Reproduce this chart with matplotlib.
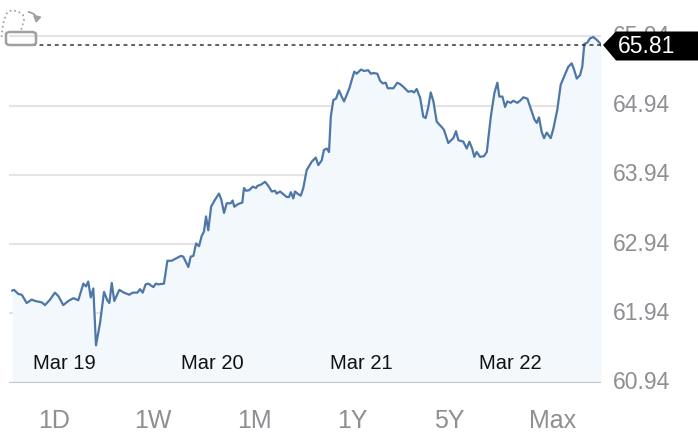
import matplotlib
matplotlib.use('Agg')
import matplotlib.pyplot as plt
from matplotlib.patches import Polygon, FancyBboxPatch, FancyArrowPatch
from matplotlib.lines import Line2D

plt.rcParams['font.family'] = ['Liberation Sans', 'DejaVu Sans']

# time in days from Mar 19 00:00, price
days = [-0.348, -0.336, -0.307, -0.284, -0.251, -0.217, -0.195, -0.150, -0.128, -0.094,
        -0.061, -0.038, -0.005, 0.029, 0.063, 0.096, 0.130, 0.148, 0.163, 0.180,
        0.197, 0.215, 0.242, 0.269, 0.291, 0.305, 0.321, 0.338, 0.372, 0.403,
        0.439, 0.462, 0.493, 0.511, 0.529, 0.549, 0.567, 0.601, 0.617, 0.634,
        0.672, 0.695, 0.724, 0.758, 0.785, 0.802, 0.836, 0.852, 0.870, 0.888,
        0.908, 0.926, 0.941, 0.955, 0.970, 0.989, 1.015, 1.042, 1.058, 1.076,
        1.094, 1.121, 1.134, 1.145, 1.172, 1.199, 1.210, 1.224, 1.246, 1.269,
        1.291, 1.300, 1.325, 1.352, 1.374, 1.397, 1.419, 1.430, 1.453, 1.475,
        1.498, 1.513, 1.525, 1.542, 1.553, 1.576, 1.592, 1.609, 1.632, 1.666,
        1.693, 1.710, 1.733, 1.748, 1.767, 1.782, 1.794, 1.811, 1.829, 1.849,
        1.867, 1.883, 1.919, 1.935, 1.952, 1.968, 1.997, 2.017, 2.046, 2.063,
        2.080, 2.107, 2.125, 2.143, 2.163, 2.177, 2.215, 2.241, 2.260, 2.282,
        2.315, 2.338, 2.354, 2.372, 2.387, 2.394, 2.416, 2.432, 2.450, 2.466,
        2.484, 2.506, 2.522, 2.540, 2.555, 2.584, 2.618, 2.636, 2.652, 2.685,
        2.708, 2.726, 2.746, 2.759, 2.775, 2.798, 2.824, 2.843, 2.870, 2.894,
        2.914, 2.927, 2.948, 2.966, 2.981, 3.004, 3.021, 3.048, 3.067, 3.089,
        3.116, 3.138, 3.163, 3.179, 3.194, 3.212, 3.228, 3.246, 3.273, 3.291,
        3.317, 3.340, 3.365, 3.391, 3.414, 3.430, 3.448, 3.470, 3.485, 3.499,
        3.519, 3.537, 3.559, 3.582, 3.604, 3.611]

prices = [62.27, 62.28, 62.22, 62.21, 62.09, 62.14, 62.12, 62.10, 62.06, 62.14,
          62.24, 62.19, 62.06, 62.12, 62.16, 62.13, 62.37, 62.33, 62.40, 62.17,
          62.30, 61.48, 61.80, 62.25, 62.13, 62.09, 62.38, 62.12, 62.28, 62.24,
          62.21, 62.24, 62.24, 62.29, 62.24, 62.36, 62.37, 62.32, 62.37, 62.36,
          62.37, 62.70, 62.70, 62.74, 62.77, 62.76, 62.61, 62.76, 62.77, 62.95,
          62.91, 63.06, 63.12, 63.34, 63.14, 63.48, 63.58, 63.67, 63.58, 63.39,
          63.53, 63.53, 63.57, 63.48, 63.52, 63.54, 63.75, 63.71, 63.72, 63.77,
          63.75, 63.78, 63.80, 63.84, 63.78, 63.70, 63.71, 63.67, 63.70, 63.66,
          63.62, 63.62, 63.69, 63.60, 63.70, 63.66, 63.64, 63.75, 64.01, 64.13,
          64.19, 64.08, 64.15, 64.30, 64.32, 64.27, 64.78, 65.02, 65.04, 65.16,
          65.07, 65.00, 65.19, 65.31, 65.43, 65.40, 65.46, 65.44, 65.45, 65.40,
          65.41, 65.40, 65.30, 65.26, 65.27, 65.19, 65.19, 65.27, 65.25, 65.21,
          65.14, 65.15, 65.13, 65.18, 65.09, 65.06, 64.78, 64.76, 64.92, 65.13,
          65.00, 64.71, 64.67, 64.63, 64.59, 64.40, 64.47, 64.57, 64.44, 64.42,
          64.32, 64.42, 64.31, 64.20, 64.27, 64.20, 64.21, 64.27, 64.78, 65.12,
          65.27, 65.07, 65.07, 64.92, 65.00, 64.98, 65.01, 64.98, 65.01, 65.06,
          65.04, 64.90, 64.74, 64.69, 64.77, 64.56, 64.47, 64.55, 64.47, 64.61,
          64.88, 65.24, 65.37, 65.50, 65.55, 65.46, 65.33, 65.38, 65.50, 65.83,
          65.85, 65.91, 65.93, 65.89, 65.84, 65.81]

last_price = 65.81
y_ticks = [60.94, 61.94, 62.94, 63.94, 64.94, 65.94]
day_ticks = [0, 1, 2, 3]
day_labels = ['Mar 19', 'Mar 20', 'Mar 21', 'Mar 22']
ranges = ['1D', '1W', '1M', '1Y', '5Y', 'Max']

W, H = 698, 441


def px(x, y):
    # pixel (from top-left) to figure fraction
    return x / W, (H - y) / H


fig = plt.figure(figsize=(W / 100, H / 100), dpi=100)
ax = fig.add_axes([9 / W, (H - 382.7) / H, 592 / W, 382.7 / H])
ax.set_xlim(-0.37, 3.611)
ax.set_ylim(60.94, 66.464)
ax.axis('off')

for v in y_ticks[1:]:
    ax.axhline(v, color='#e4e4e6', lw=1.5, zorder=1)
ax.axhline(y_ticks[0], color='#c6c6c8', lw=1.6, zorder=4)

ax.fill_between(days, prices, y_ticks[0], color='#f3f8fd', lw=0, zorder=2)
ax.plot(days, prices, color='#4d77a8', lw=1.6, zorder=3, solid_joinstyle='round')
ax.axhline(last_price, color='#333333', lw=1.1, ls=(0, (2.5, 2.5)), zorder=5)

for d, lab in zip(day_ticks, day_labels):
    ax.text(d, 61.22, lab, ha='center', va='center', fontsize=14.5, color='#111111', zorder=6)

for v in y_ticks:
    ax.text(1.0205, v, f'{v:.2f}', transform=ax.get_yaxis_transform(), ha='left',
            va='center', fontsize=16.5, color='#8e8e93', clip_on=False, zorder=6)

# price badge
badge = Polygon([px(603, 45), px(616, 31.5), px(698, 31.5), px(698, 60.5), px(616, 60.5)],
                closed=True, transform=fig.transFigure, facecolor='black', edgecolor='none', zorder=20)
fig.add_artist(badge)
bx, by = px(618, 46.5)
fig.text(bx, by, f'{last_price:.2f}', ha='left', va='center', fontsize=16.5, color='white', zorder=21)

# rotate icon top-left
x0, y0 = px(6, 45)
x1, y1 = px(36, 32)
icon = FancyBboxPatch((x0, y0), x1 - x0, y1 - y0, boxstyle='round,pad=0,rounding_size=0.006',
                      transform=fig.transFigure, facecolor='none', edgecolor='#a0a0a0', lw=1.8, zorder=20)
fig.add_artist(icon)
dots = [px(1.5, 37), px(2.5, 28), px(4, 20), px(7, 13), px(12, 10), px(18, 11.5),
        px(23, 15), px(24, 20), px(22, 27), px(21, 31)]
fig.add_artist(Line2D([p[0] for p in dots], [p[1] for p in dots], transform=fig.transFigure,
                      color='#a6a6a6', lw=1.3, ls=(0, (1, 1.6)), zorder=20))
fig.add_artist(FancyArrowPatch(px(28.5, 12), px(36, 23), transform=fig.transFigure,
                               connectionstyle='arc3,rad=-0.5', arrowstyle='-|>,head_length=3.5,head_width=2.2',
                               color='#a0a0a0', lw=1.3, zorder=20, shrinkA=0, shrinkB=0))

# range buttons
for cx, lab in zip([54, 153, 254, 352, 449, 553], ranges):
    x, y = px(cx, 421)
    fig.text(x, y, lab, ha='center', va='center', fontsize=18, color='#8e8e93')

fig.savefig('out.png', dpi=100, facecolor='white')
